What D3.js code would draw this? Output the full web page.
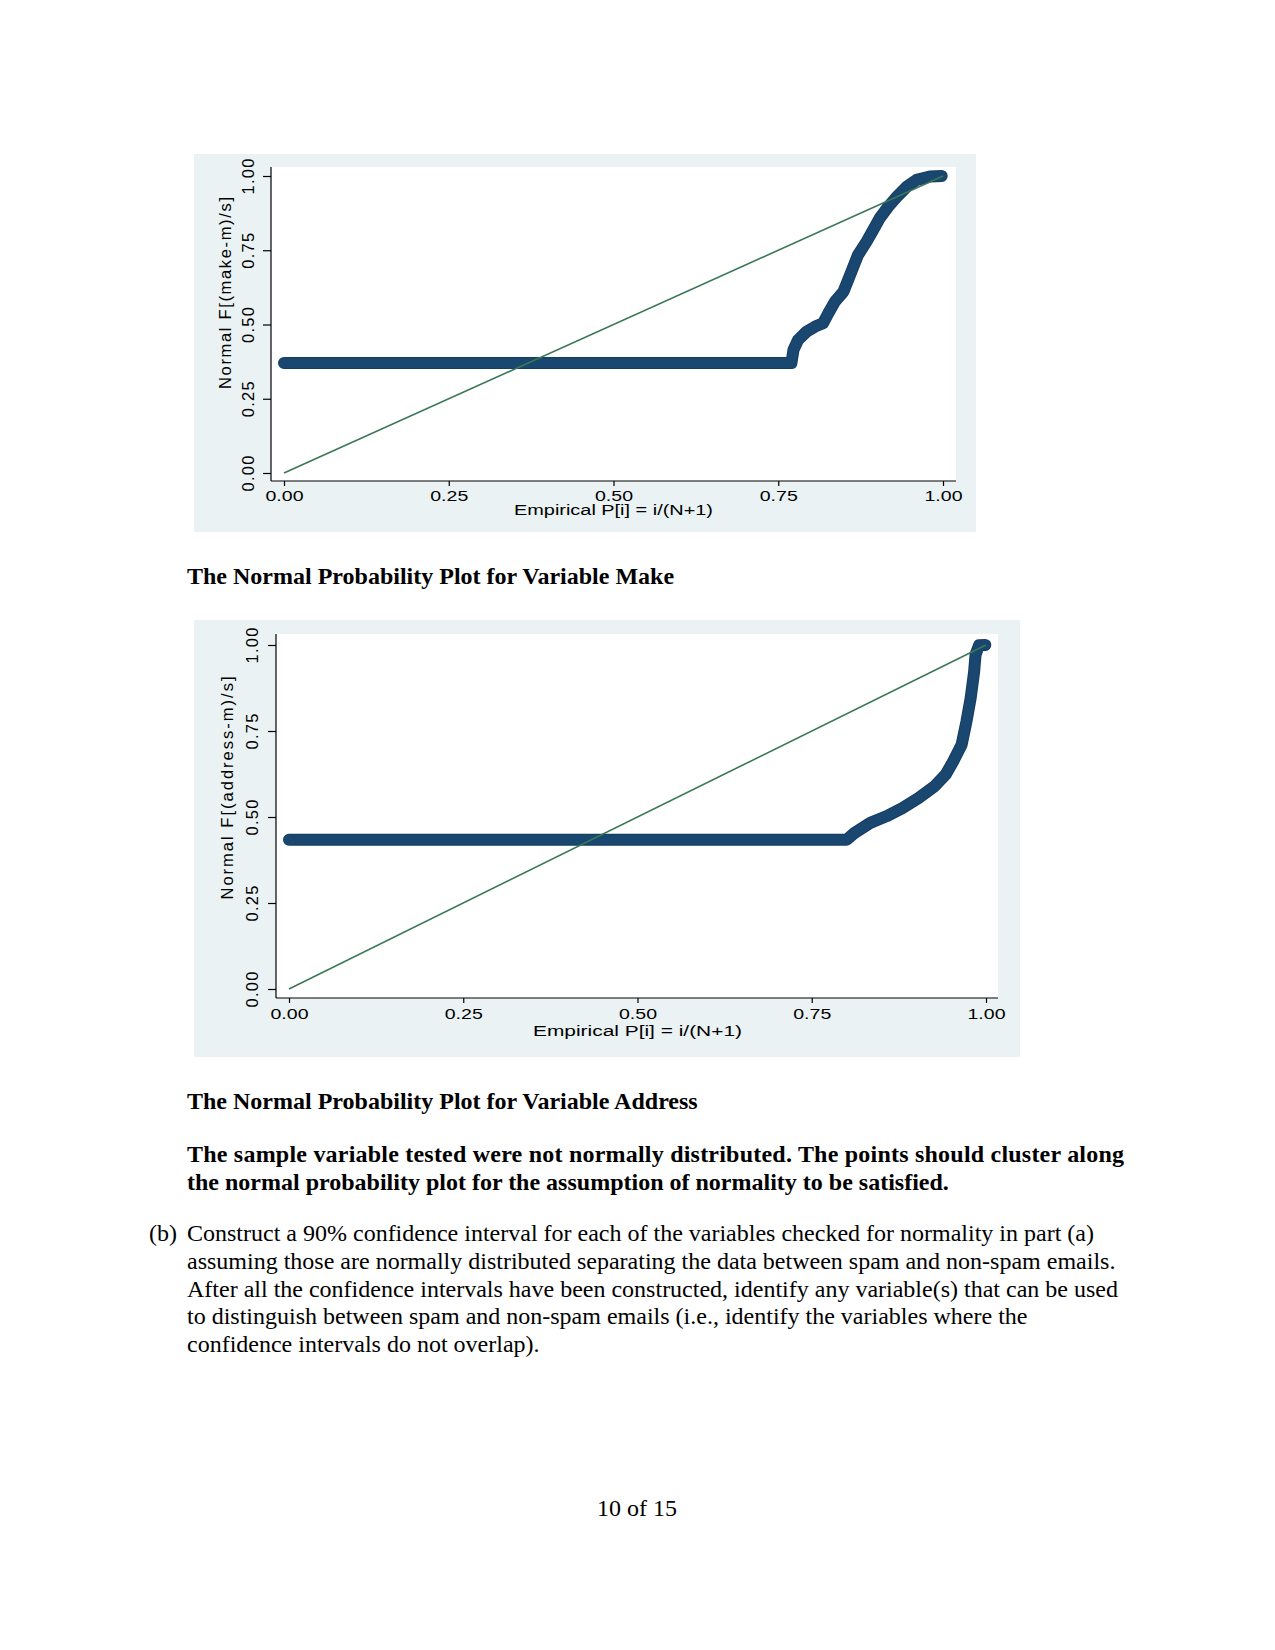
<!DOCTYPE html>
<html>
<head>
<meta charset="utf-8">
<script src="https://cdn.jsdelivr.net/npm/d3@7"></script>
<style>
  html, body { margin: 0; padding: 0; background: #ffffff; }
  svg { display: block; }
</style>
</head>
<body>
<svg id="page" width="1275" height="1650"></svg>
<script>
// ---------------- DATA ----------------
const tickValues = [0, 0.25, 0.5, 0.75, 1];
const tickLabels = ["0.00", "0.25", "0.50", "0.75", "1.00"];

// Chart 1: variable "make" — empirical P[i] vs Normal F[(make-m)/s]
const makeP = [0.000, 0.770, 0.773, 0.780, 0.793, 0.806, 0.818, 0.826, 0.836, 0.849, 0.856, 0.864, 0.871, 0.884, 0.894, 0.904, 0.917, 0.930, 0.945, 0.960, 0.980, 0.998];
const makeF = [0.370, 0.370, 0.414, 0.448, 0.476, 0.493, 0.504, 0.538, 0.577, 0.611, 0.650, 0.695, 0.734, 0.779, 0.818, 0.858, 0.897, 0.930, 0.964, 0.987, 0.998, 1.000];

// Chart 2: variable "address"
const addrP = [0.000, 0.800, 0.811, 0.834, 0.857, 0.880, 0.903, 0.926, 0.942, 0.953, 0.965, 0.972, 0.978, 0.983, 0.985, 0.990, 0.999];
const addrF = [0.434, 0.434, 0.453, 0.483, 0.502, 0.526, 0.555, 0.589, 0.623, 0.662, 0.710, 0.778, 0.846, 0.923, 0.972, 0.999, 1.000];

// Reference line (normal CDF = empirical P)
const refP = [0, 1];
const refF = [0, 1];

const xTitle = "Empirical P[i] = i/(N+1)";
const yTitles = ["Normal F[(make-m)/s]", "Normal F[(address-m)/s]"];
const captions = ["The Normal Probability Plot for Variable Make", "The Normal Probability Plot for Variable Address"];
const boldPara = [
  "The sample variable tested were not normally distributed. The points should cluster along",
  "the normal probability plot for the assumption of normality to be satisfied."
];
const bodyLabel = "(b)";
const bodyLines = [
  "Construct a 90% confidence interval for each of the variables checked for normality in part (a)",
  "assuming those are normally distributed separating the data between spam and non-spam emails.",
  "After all the confidence intervals have been constructed, identify any variable(s) that can be used",
  "to distinguish between spam and non-spam emails (i.e., identify the variables where the",
  "confidence intervals do not overlap)."
];
const pageLabel = "10 of 15";

// ---------------- STYLE ----------------
const NAVY = "#1a476f";
const GREEN = "#3a7856";
const PANEL_BG = "#eaf2f3";
const SANS = "'Liberation Sans', Arial, sans-serif";
const SERIF = "'Liberation Serif', 'Times New Roman', serif";

const svg = d3.select("#page");
svg.append("rect").attr("width", 1275).attr("height", 1650).attr("fill", "#ffffff");

function drawChart(cfg) {
  const g = svg.append("g");
  // outer panel
  g.append("rect")
    .attr("x", cfg.panel[0]).attr("y", cfg.panel[1])
    .attr("width", cfg.panel[2] - cfg.panel[0]).attr("height", cfg.panel[3] - cfg.panel[1])
    .attr("fill", PANEL_BG);
  // plot region
  g.append("rect")
    .attr("x", cfg.plot[0]).attr("y", cfg.plot[1])
    .attr("width", cfg.plot[2] - cfg.plot[0]).attr("height", cfg.plot[3] - cfg.plot[1])
    .attr("fill", "#ffffff");

  const x = d3.scaleLinear().domain([0, 1]).range(cfg.xr);
  const y = d3.scaleLinear().domain([0, 1]).range(cfg.yr);

  // axis lines
  g.append("line").attr("x1", cfg.plot[0]).attr("x2", cfg.plot[0])
    .attr("y1", cfg.plot[1]).attr("y2", cfg.plot[3]).attr("stroke", "#000").attr("stroke-width", 1.2);
  g.append("line").attr("x1", cfg.plot[0]).attr("x2", cfg.plot[2])
    .attr("y1", cfg.plot[3]).attr("y2", cfg.plot[3]).attr("stroke", "#000").attr("stroke-width", 1.2);

  // y axis
  const yAxis = g.append("g").attr("transform", `translate(${cfg.plot[0]},0)`)
    .call(d3.axisLeft(y).tickValues(tickValues).tickSize(8).tickFormat((d, i) => tickLabels[i]));
  yAxis.select(".domain").remove();
  yAxis.selectAll(".tick line").attr("stroke", "#000").attr("stroke-width", 1.2);
  yAxis.selectAll(".tick text")
    .attr("x", 0).attr("y", 0).attr("dy", null).attr("dx", null)
    .attr("text-anchor", "middle")
    .attr("transform", `translate(${-cfg.yLabOff},0) rotate(-90)`)
    .attr("font-family", SANS).attr("font-size", 16.5).attr("fill", "#000")
    .attr("textLength", 36).attr("lengthAdjust", "spacing");

  // x axis
  const xAxis = g.append("g").attr("transform", `translate(0,${cfg.plot[3]})`)
    .call(d3.axisBottom(x).tickValues(tickValues).tickSize(5).tickFormat((d, i) => tickLabels[i]));
  xAxis.select(".domain").remove();
  xAxis.selectAll(".tick line").attr("stroke", "#000").attr("stroke-width", 1.2);
  xAxis.selectAll(".tick text")
    .attr("y", cfg.xLabOff).attr("dy", null)
    .attr("font-family", SANS).attr("font-size", 15.5).attr("fill", "#000")
    .attr("textLength", 38).attr("lengthAdjust", "spacingAndGlyphs");

  // axis titles
  g.append("text")
    .attr("x", (cfg.xr[0] + cfg.xr[1]) / 2).attr("y", cfg.xTitleY)
    .attr("text-anchor", "middle")
    .attr("font-family", SANS).attr("font-size", 15.5)
    .attr("textLength", cfg.xTitleLen).attr("lengthAdjust", "spacingAndGlyphs")
    .text(xTitle);
  g.append("text")
    .attr("transform", `translate(${cfg.yTitleX},${cfg.yTitleC}) rotate(-90)`)
    .attr("text-anchor", "middle")
    .attr("font-family", SANS).attr("font-size", 16.5)
    .attr("textLength", cfg.yTitleLen).attr("lengthAdjust", "spacing")
    .text(cfg.yTitle);

  // data (dense markers rendered as a thick round-capped trace plus markers)
  const pts = cfg.P.map((p, i) => [p, cfg.F[i]]);
  const line = d3.line().x(d => x(d[0])).y(d => y(d[1])).curve(d3.curveLinear);
  g.append("path").datum(pts).attr("d", line)
    .attr("fill", "none").attr("stroke", "#163d60").attr("stroke-width", 12)
    .attr("stroke-linecap", "round").attr("stroke-linejoin", "round");
  g.append("path").datum(pts).attr("d", line)
    .attr("fill", "none").attr("stroke", NAVY).attr("stroke-width", 10)
    .attr("stroke-linecap", "round").attr("stroke-linejoin", "round");
  g.selectAll("circle.pt").data(pts).enter().append("circle").attr("class", "pt")
    .attr("cx", d => x(d[0])).attr("cy", d => y(d[1])).attr("r", 5).attr("fill", NAVY);

  // reference line
  const ref = refP.map((p, i) => [p, refF[i]]);
  g.append("path").datum(ref).attr("d", line)
    .attr("fill", "none").attr("stroke", GREEN).attr("stroke-width", 1.6);
}

drawChart({
  panel: [194, 154, 976, 532], plot: [271, 167, 956, 481],
  xr: [284, 943], yr: [473, 176],
  yLabOff: 17, xLabOff: 19.5, xTitleY: 515, xTitleLen: 199,
  yTitleX: 231, yTitleC: 293, yTitleLen: 192, yTitle: yTitles[0],
  P: makeP, F: makeF
});
drawChart({
  panel: [194, 620, 1020, 1057], plot: [276, 634, 998, 998],
  xr: [289, 986], yr: [989, 645],
  yLabOff: 18, xLabOff: 21, xTitleY: 1036, xTitleLen: 209,
  yTitleX: 233, yTitleC: 788, yTitleLen: 223, yTitle: yTitles[1],
  P: addrP, F: addrF
});

// ---------------- TEXT ----------------
function txt(s, x, y, opts) {
  const t = svg.append("text").attr("x", x).attr("y", y)
    .attr("font-family", SERIF).attr("font-size", 24).attr("fill", "#000").text(s);
  if (opts && opts.bold) t.attr("font-weight", "bold");
  if (opts && opts.anchor) t.attr("text-anchor", opts.anchor);
  if (opts && opts.len) t.attr("textLength", opts.len).attr("lengthAdjust", "spacing");
  return t;
}
txt(captions[0], 187, 584, { bold: true });
txt(captions[1], 187, 1109, { bold: true });
txt(boldPara[0], 187, 1162, { bold: true, len: 937 });
txt(boldPara[1], 187, 1190, { bold: true });
txt(bodyLabel, 149, 1241);
const bodyY = [1241, 1269, 1297, 1324, 1352];
bodyLines.forEach((s, i) => txt(s, 187, bodyY[i]));
txt(pageLabel, 637, 1516, { anchor: "middle" });
</script>
</body>
</html>
